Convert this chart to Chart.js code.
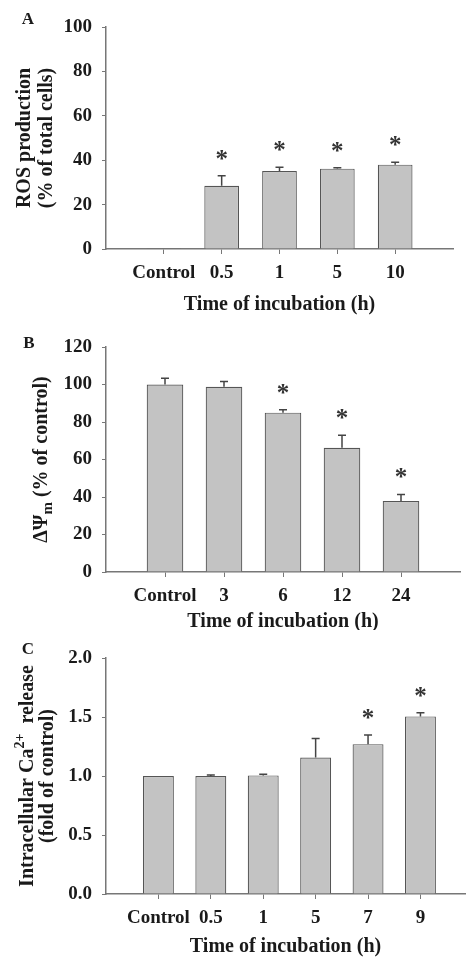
<!DOCTYPE html>
<html>
<head>
<meta charset="utf-8">
<script src="https://cdn.jsdelivr.net/npm/chart.js@4"></script>
<style>
	body { margin: 0; background: #fff; }
	.panel { position: absolute; left: 0; width: 468px; }
</style>
</head>
<body>
<div class="panel" style="top:0;height:320px"><canvas id="chartA"></canvas></div>
<div class="panel" style="top:320px;height:310px"><canvas id="chartB"></canvas></div>
<div class="panel" style="top:630px;height:328px"><canvas id="chartC"></canvas></div>
<script>
// A - ROS production
const catsA = ['Control', '0.5', '1', '5', '10']
const valsA = [0.3, 28.5, 35.1, 36.2, 38.0]
const errA = [0, 4.5, 1.7, 0.4, 1.1]
const starA = [false, true, true, true, true]
const yTicksA = [0, 20, 40, 60, 80, 100]

// B - mitochondrial membrane potential
const catsB = ['Control', '3', '6', '12', '24']
const valsB = [100, 98.8, 85.0, 66.3, 37.9]
const errB = [3.3, 2.8, 1.6, 6.6, 3.5]
const starB = [false, false, true, true, true]
const yTicksB = [0, 20, 40, 60, 80, 100, 120]

// C - intracellular Ca2+
const catsC = ['Control', '0.5', '1', '5', '7', '9']
const valsC = [1.0, 1.0, 1.005, 1.157, 1.27, 1.505]
const errC = [0, 0.008, 0.01, 0.16, 0.077, 0.03]
const starC = [false, false, false, false, true, true]
const yTicksC = [0, 0.5, 1.0, 1.5, 2.0]

const SERIF = '"Liberation Serif", "Times New Roman", serif'
const INK = '#1a1a1a'
const AXIS = '#777'

function font(size) {
	return 'bold ' + size + 'px ' + SERIF
}

// rotated y title, parts = [{t, size, dy}]
function drawRotated(ctx, parts, cx, cy) {
	ctx.save()
	ctx.translate(cx, cy)
	ctx.rotate(-Math.PI / 2)
	let w = 0
	parts.forEach(p => { ctx.font = font(p.size); w += ctx.measureText(p.t).width })
	let x = -w / 2
	ctx.textAlign = 'left'
	ctx.textBaseline = 'middle'
	parts.forEach(p => {
		ctx.font = font(p.size)
		ctx.fillText(p.t, x, p.dy || 0)
		x += ctx.measureText(p.t).width
	})
	ctx.restore()
}

function panel(id, p) {
	const extras = {
		id: 'extras',
		afterDraw(chart) {
			const ctx = chart.ctx
			const area = chart.chartArea
			const ys = chart.scales.y
			const meta = chart.getDatasetMeta(0)
			ctx.save()
			ctx.fillStyle = INK
			// error bars
			ctx.strokeStyle = '#444'
			ctx.lineWidth = 1.5
			meta.data.forEach((el, i) => {
				const top = ys.getPixelForValue(p.vals[i] + p.err[i])
				if (p.err[i] > 0) {
					ctx.beginPath()
					ctx.moveTo(el.x, el.y)
					ctx.lineTo(el.x, top)
					ctx.moveTo(el.x - 4, top)
					ctx.lineTo(el.x + 4, top)
					ctx.stroke()
				}
				// significance mark
				if (p.stars[i]) {
					ctx.font = font(25)
					ctx.textAlign = 'center'
					ctx.textBaseline = 'alphabetic'
					ctx.fillStyle = '#333'
					ctx.fillText('*', el.x, top - 21 + 12)
				}
			})
			ctx.fillStyle = INK
			// panel letter
			ctx.font = font(17)
			ctx.textAlign = 'center'
			ctx.textBaseline = 'middle'
			ctx.fillText(p.letter, p.letterX, p.letterY)
			// x title
			ctx.font = font(20)
			ctx.fillText('Time of incubation (h)', (area.left + area.right) / 2 + p.xTitleDx, area.bottom + p.xTitleDy)
			// y title lines
			const cy = (area.top + area.bottom) / 2
			p.yTitle.forEach((line, k) => drawRotated(ctx, line, p.yTitleX[k], cy))
			ctx.restore()
		}
	}

	return new Chart(document.getElementById(id), {
		type: 'bar',
		data: {
			datasets: [{
				data: p.vals.map((v, i) => ({ x: i + 1, y: v })),
				backgroundColor: '#c3c3c3',
				borderColor: '#555',
				borderWidth: 1.2,
				barPercentage: p.barPct,
				categoryPercentage: 1,
			}],
		},
		options: {
			responsive: true,
			maintainAspectRatio: false,
			animation: false,
			layout: { padding: { top: p.padTop, right: p.padRight, left: 0, bottom: 0 } },
			plugins: { legend: { display: false }, tooltip: { enabled: false } },
			scales: {
				x: {
					type: 'linear',
					offset: false,
					min: 0,
					max: p.xMax,
					afterBuildTicks: s => { s.ticks = p.cats.map((c, i) => ({ value: i + 1 })) },
					afterFit: s => { s.height = p.xHeight },
					ticks: {
						callback: v => p.cats[v - 1],
						autoSkip: false,
						maxRotation: 0,
						padding: 8,
						color: INK,
						font: { family: SERIF, size: 19, weight: 'bold' },
					},
					grid: { drawOnChartArea: false, offset: false, tickLength: 5, color: AXIS },
					border: { color: AXIS, width: 1.5 },
				},
				y: {
					min: 0,
					max: p.yTicks[p.yTicks.length - 1],
					afterBuildTicks: s => { s.ticks = p.yTicks.map(v => ({ value: v })) },
					afterFit: s => { s.width = 106 },
					ticks: {
						callback: v => p.yFmt(v),
						padding: 10,
						color: INK,
						font: { family: SERIF, size: 19, weight: 'bold' },
					},
					grid: { drawOnChartArea: false, tickLength: 4, color: AXIS },
					border: { color: AXIS, width: 1.5 },
				},
			},
		},
		plugins: [extras],
	})
}

panel('chartA', {
	cats: catsA, vals: valsA, err: errA, stars: starA, yTicks: yTicksA,
	yFmt: v => String(v),
	xMax: 6, barPct: 0.6, padTop: 27, padRight: 15, xHeight: 71,
	letter: 'A', letterX: 28, letterY: 20,
	xTitleDx: 0, xTitleDy: 56,
	yTitle: [[{ t: 'ROS production', size: 20 }], [{ t: '(% of total cells)', size: 20 }]],
	yTitleX: [25, 47],
})

panel('chartB', {
	cats: catsB, vals: valsB, err: errB, stars: starB, yTicks: yTicksB,
	yFmt: v => String(v),
	xMax: 6, barPct: 0.62, padTop: 27, padRight: 8, xHeight: 58,
	letter: 'B', letterX: 29, letterY: 24,
	xTitleDx: 0, xTitleDy: 50,
	yTitle: [[
		{ t: '\u0394\u03a8', size: 20 },
		{ t: 'm', size: 15, dy: 6 },
		{ t: ' (% of control)', size: 20 },
	]],
	yTitleX: [42],
})

panel('chartC', {
	cats: catsC, vals: valsC, err: errC, stars: starC, yTicks: yTicksC,
	yFmt: v => v.toFixed(1),
	xMax: 6.85, barPct: 0.59, padTop: 28, padRight: 3, xHeight: 64,
	letter: 'C', letterX: 28, letterY: 20,
	xTitleDx: 0, xTitleDy: 53,
	yTitle: [[
		{ t: 'Intracellular Ca', size: 20 },
		{ t: '2+', size: 14, dy: -8 },
		{ t: '  release', size: 20 },
	], [{ t: '(fold of control)', size: 20 }]],
	yTitleX: [28, 48],
})
</script>
</body>
</html>
